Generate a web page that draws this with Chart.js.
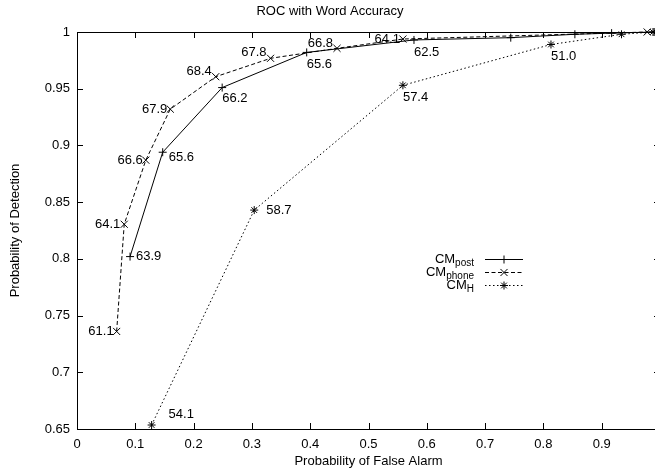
<!DOCTYPE html>
<html>
<head>
<meta charset="utf-8">
<script src="https://cdn.jsdelivr.net/npm/chart.js@4.4.1/dist/chart.umd.min.js"></script>
<style>
  html, body { margin: 0; padding: 0; background: #fff; overflow: hidden; }
  #wrap { width: 668px; height: 470px; }
</style>
</head>
<body>
<div id="wrap"><canvas id="roc" width="668" height="470"></canvas></div>
<script>
// ---- data ----
const postFalseAlarm = [0.091, 0.147, 0.249, 0.394, 0.578, 0.744, 0.854, 0.917, 0.99];
const postDetection  = [0.802, 0.894, 0.951, 0.982, 0.993, 0.995, 0.998, 0.999, 1.0];
const postAccuracy   = ["63.9", "65.6", "66.2", "65.6", "62.5", "", "", "", ""];

const phoneFalseAlarm = [0.068, 0.081, 0.118, 0.160, 0.238, 0.332, 0.446, 0.559, 0.978];
const phoneDetection  = [0.736, 0.8305, 0.887, 0.932, 0.9606, 0.9768, 0.9856, 0.9938, 1.0];
const phoneAccuracy   = ["61.1", "64.1", "66.6", "67.9", "68.4", "67.8", "66.8", "64.1", ""];

const hFalseAlarm = [0.128, 0.304, 0.559, 0.813, 0.934, 0.988];
const hDetection  = [0.6535, 0.843, 0.953, 0.989, 0.998, 1.0];
const hAccuracy   = ["54.1", "58.7", "57.4", "51.0", "", ""];

const seriesNames = ["CM", "CM", "CM"];
const seriesSubs  = ["post", "phone", "H"];

const xTicks = [0, 0.1, 0.2, 0.3, 0.4, 0.5, 0.6, 0.7, 0.8, 0.9, 1];
const xTickLabels = ["0", "0.1", "0.2", "0.3", "0.4", "0.5", "0.6", "0.7", "0.8", "0.9", ""];
const yTicks = [0.65, 0.7, 0.75, 0.8, 0.85, 0.9, 0.95, 1];
const yTickLabels = ["0.65", "0.7", "0.75", "0.8", "0.85", "0.9", "0.95", "1"];

// label placement: [align, dx, dy] relative to the point
const postLabelPos  = [["left", 6, 0], ["left", 6, 5], ["left", 0, 11], ["left", 0, 12], ["left", 0, 12]];
const phoneLabelPos = [["right", -3, 0], ["right", -4, 0], ["right", -3, 0], ["right", -3, 0],
                       ["right", -4, -5], ["right", -4, -6], ["right", -4, -5], ["right", -3, 0]];
const hLabelPos     = [["left", 17, -11], ["left", 12, 0], ["left", 0, 12], ["left", 0, 12]];

const FONT = "'Liberation Sans', Arial, Helvetica, sans-serif";

function toPoints(xs, ys) {
  return xs.map((x, i) => ({ x, y: ys[i] }));
}

// =========================
// frame + gnuplot style inward ticks
// =========================
const framePlugin = {
  id: "frame",
  afterDatasetsDraw(chart) {
    const { ctx, chartArea, scales } = chart;
    const { left, right, top, bottom } = chartArea;
    const len = 6;
    ctx.save();
    ctx.strokeStyle = "#000";
    ctx.lineWidth = 1;
    ctx.beginPath();
    ctx.rect(left + 0.5, top + 0.5, right - left, bottom - top);
    xTicks.forEach((v) => {
      const px = Math.round(scales.x.getPixelForValue(v)) + 0.5;
      ctx.moveTo(px, bottom);
      ctx.lineTo(px, bottom - len);
      ctx.moveTo(px, top);
      ctx.lineTo(px, top + len);
    });
    yTicks.forEach((v) => {
      const py = Math.round(scales.y.getPixelForValue(v)) + 0.5;
      ctx.moveTo(left, py);
      ctx.lineTo(left + len, py);
      ctx.moveTo(right, py);
      ctx.lineTo(right - len, py);
    });
    ctx.stroke();
    ctx.restore();
  },
};

// =========================
// accuracy labels next to points
// =========================
const accuracyPlugin = {
  id: "accuracy",
  afterDatasetsDraw(chart) {
    const { ctx } = chart;
    ctx.save();
    ctx.fillStyle = "#000";
    ctx.font = `13px ${FONT}`;
    ctx.textBaseline = "middle";
    chart.data.datasets.forEach((ds, di) => {
      const meta = chart.getDatasetMeta(di);
      ds.accuracy.forEach((txt, i) => {
        if (!txt) return;
        const el = meta.data[i];
        const [align, dx, dy] = ds.labelPos[i];
        ctx.textAlign = align;
        ctx.fillText(txt, el.x + dx, el.y + dy);
      });
    });
    ctx.restore();
  },
};

// =========================
// legend with subscripts
// =========================
const legendPlugin = {
  id: "subLegend",
  afterDraw(chart, args, opts) {
    const { ctx } = chart;
    ctx.save();
    chart.data.datasets.forEach((ds, i) => {
      const y = opts.y + i * opts.rowGap;
      ctx.font = `10px ${FONT}`;
      const subW = ctx.measureText(seriesSubs[i]).width;
      ctx.font = `13px ${FONT}`;
      const mainW = ctx.measureText(seriesNames[i]).width;
      const textRight = opts.textRight;
      ctx.fillStyle = "#000";
      ctx.textAlign = "left";
      ctx.textBaseline = "alphabetic";
      ctx.fillText(seriesNames[i], textRight - subW - mainW, y + 4);
      ctx.font = `10px ${FONT}`;
      ctx.fillText(seriesSubs[i], textRight - subW, y + 7);

      ctx.strokeStyle = "#000";
      ctx.lineWidth = 1;
      ctx.setLineDash(ds.borderDash || []);
      ctx.beginPath();
      ctx.moveTo(opts.lineLeft, y + 0.5);
      ctx.lineTo(opts.lineRight, y + 0.5);
      ctx.stroke();
      ctx.setLineDash([]);

      const mx = (opts.lineLeft + opts.lineRight) / 2;
      Chart.helpers.drawPoint(ctx, {
        pointStyle: ds.pointStyle,
        radius: ds.pointRadius,
        borderWidth: 1,
      }, mx, y + 0.5);
    });
    ctx.restore();
  },
};

const commonSet = {
  borderColor: "#000",
  backgroundColor: "#000",
  borderWidth: 1,
  pointRadius: 4,
  pointBorderWidth: 1,
  pointBorderColor: "#000",
  tension: 0,
  clip: false,
};

new Chart(document.getElementById("roc").getContext("2d"), {
  type: "line",
  data: {
    datasets: [
      {
        ...commonSet,
        label: "CM post",
        data: toPoints(postFalseAlarm, postDetection),
        pointStyle: "cross",
        accuracy: postAccuracy,
        labelPos: postLabelPos,
      },
      {
        ...commonSet,
        label: "CM phone",
        data: toPoints(phoneFalseAlarm, phoneDetection),
        pointStyle: "crossRot",
        pointRadius: 5,
        borderDash: [4, 2.5],
        accuracy: phoneAccuracy,
        labelPos: phoneLabelPos,
      },
      {
        ...commonSet,
        label: "CM H",
        data: toPoints(hFalseAlarm, hDetection),
        pointStyle: "star",
        pointRadius: 4,
        borderDash: [1.5, 2.5],
        accuracy: hAccuracy,
        labelPos: hLabelPos,
      },
    ],
  },
  options: {
    responsive: false,
    animation: false,
    layout: { padding: { left: 0, right: 8, top: 0, bottom: 0 } },
    plugins: {
      legend: { display: false },
      tooltip: { enabled: false },
      title: {
        display: true,
        text: "ROC with Word Accuracy",
        color: "#000",
        font: { family: FONT, size: 13, weight: "normal" },
        padding: { top: 4, bottom: 12.4 },
      },
      subLegend: { y: 259, rowGap: 13, textRight: 474, lineLeft: 485, lineRight: 523 },
    },
    scales: {
      x: {
        type: "linear",
        min: 0,
        max: 1,
        afterFit: (s) => { s.height = 41; },
        afterBuildTicks: (s) => { s.ticks = xTicks.map((v) => ({ value: v })); },
        grid: { display: false, drawTicks: false },
        border: { display: false },
        ticks: {
          color: "#000",
          padding: 8,
          maxRotation: 0,
          autoSkip: false,
          font: { family: FONT, size: 13 },
          callback: (v, i) => xTickLabels[i],
        },
        title: {
          display: true,
          text: "Probability of False Alarm",
          color: "#000",
          font: { family: FONT, size: 13 },
          padding: { top: 0, bottom: 1 },
        },
      },
      y: {
        type: "linear",
        min: 0.65,
        max: 1,
        afterFit: (s) => { s.width = 77; },
        afterBuildTicks: (s) => { s.ticks = yTicks.map((v) => ({ value: v })); },
        grid: { display: false, drawTicks: false },
        border: { display: false },
        ticks: {
          color: "#000",
          padding: 7,
          autoSkip: false,
          font: { family: FONT, size: 13 },
          callback: (v, i) => yTickLabels[i],
        },
        title: {
          display: true,
          text: "Probability of Detection",
          color: "#000",
          font: { family: FONT, size: 13 },
          padding: { top: 8, bottom: 0 },
        },
      },
    },
  },
  plugins: [framePlugin, accuracyPlugin, legendPlugin],
});
</script>
</body>
</html>
